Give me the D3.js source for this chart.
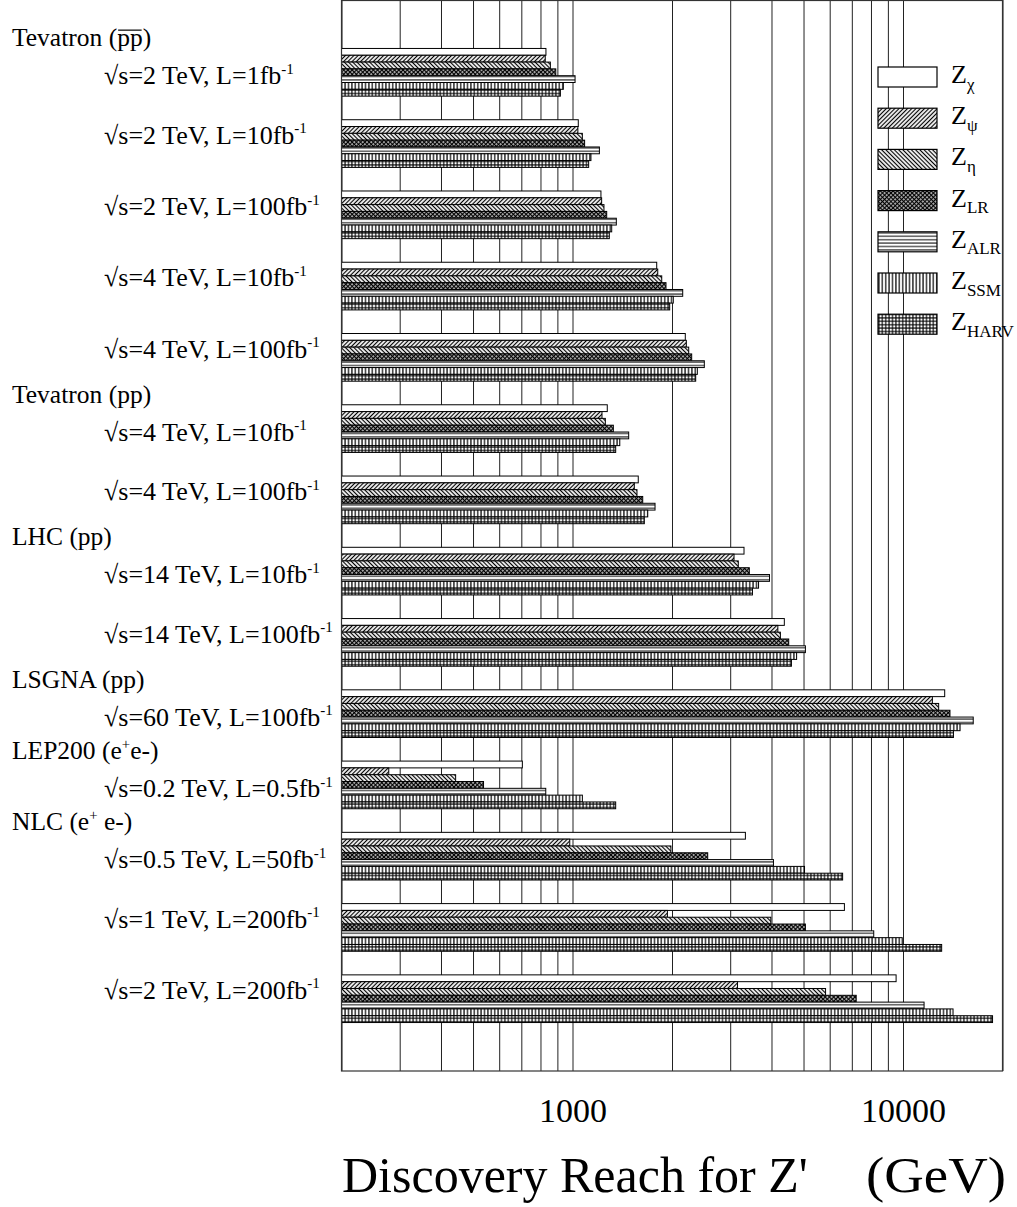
<!DOCTYPE html>
<html><head><meta charset="utf-8">
<script src="https://cdn.jsdelivr.net/npm/d3@7"></script>
<style>
body{margin:0;background:#fff}
svg{display:block}
text{font-family:"Liberation Serif","Times New Roman",Times,serif;fill:#000}
</style>
</head><body>
<svg id="chart" width="1017" height="1207"></svg>
<script>
// ---------------- data ----------------
const sqrtS = ["2","2","2","4","4","4","4","14","14","60","0.2","0.5","1","2"];
const lumi  = ["1","10","100","10","100","10","100","10","100","100","0.5","50","200","200"];
const colliders = ["Tevatron (~{pp})","Tevatron (pp)","LHC (pp)","LSGNA (pp)","LEP200 (e^{+}e-)","NLC  (e^{+} e-)"];
const groupCollider = [0,0,0,0,0,1,1,2,2,3,4,5,5,5];
const seriesSub = ["χ","ψ","η","LR","ALR","SSM","HARV"];

const zChi  = [831,1041,1219,1798,2194,1274,1581,3303,4374,13370,705,3335,6648,9530];
const zPsi  = [827,1038,1225,1811,2210,1228,1538,3081,4181,12270,278,981,1937,3157];
const zEta  = [857,1071,1245,1862,2247,1257,1567,3174,4256,12820,443,1985,3981,5830];
const zLR   = [890,1088,1269,1918,2294,1329,1631,3427,4510,13870,538,2565,5066,7217];
const zALR  = [1018,1206,1357,2155,2505,1479,1777,3945,5066,16310,830,4055,8155,11580];
const zSSM  = [938,1137,1314,2018,2386,1390,1689,3655,4765,14880,1071,5035,9945,14170];
const zHARV = [919,1119,1292,1968,2359,1351,1649,3503,4596,14210,1351,6566,13090,18660];
const seriesValues = [zChi,zPsi,zEta,zLR,zALR,zSSM,zHARV];

const xTicks = [200,300,400,500,600,700,800,900,1000,2000,3000,4000,5000,6000,7000,8000,9000,10000,20000];
const xTickLabels = [1000,10000];
const axisTitle = "Discovery Reach for Z'";
const unitTitle = "(GeV)";

// ---------------- layout ----------------
const svg = d3.select("#chart");
const L = 341.5, R = 1002.5, T = 0, B = 1071;
const x = d3.scaleLog().domain([200,20000]).range([L,R]);
const y = d3.scaleBand().domain(d3.range(sqrtS.length)).range([T,B]).paddingInner(0.331).paddingOuter(0.68);
const ys = d3.scaleBand().domain(d3.range(seriesSub.length)).range([0,y.bandwidth()]);

// ---------------- patterns ----------------
const defs = svg.append("defs");
function pattern(id, w, h, transform, draw){
  const p = defs.append("pattern").attr("id",id).attr("patternUnits","userSpaceOnUse")
    .attr("width",w).attr("height",h);
  if(transform) p.attr("patternTransform",transform);
  p.append("rect").attr("width",w).attr("height",h).attr("fill","#fff");
  draw(p);
}
const ln = (p,x1,y1,x2,y2,sw)=>p.append("line").attr("x1",x1).attr("y1",y1).attr("x2",x2).attr("y2",y2)
  .attr("stroke","#000").attr("stroke-width",sw);
pattern("p0",4,4,null,p=>{});
pattern("p1",3,3,"rotate(45)",p=>ln(p,1.5,0,1.5,3,1.2));
pattern("p2",3,3,"rotate(-45)",p=>ln(p,1.5,0,1.5,3,1.2));
pattern("p3",3,3,"rotate(45)",p=>{ln(p,1.5,0,1.5,3,1.4);ln(p,0,1.5,3,1.5,1.4);});
pattern("p4",4,3.4,null,p=>ln(p,0,1.7,4,1.7,1));
pattern("p5",3.4,4,null,p=>ln(p,1.7,0,1.7,4,1.2));
pattern("p6",3.4,3.4,null,p=>{ln(p,1.7,0,1.7,3.4,1.1);ln(p,0,1.7,3.4,1.7,1.1);});

// ---------------- grid (axis) ----------------
const axis = d3.axisBottom(x).tickValues(xTicks).tickSize(B-T).tickSizeOuter(0)
  .tickFormat(d => xTickLabels.includes(d) ? String(d) : "");
const gAxis = svg.append("g").attr("transform",`translate(0,${T})`).call(axis);
gAxis.select(".domain").remove();
gAxis.attr("font-family",null).attr("font-size",null);
gAxis.selectAll(".tick line").attr("stroke","#222").attr("stroke-width",1);
gAxis.selectAll(".tick text").attr("y",1121.7).attr("dy",0).attr("font-size",34).attr("fill","#000");

// ---------------- bars ----------------
const gBars = svg.append("g");
seriesValues.forEach((vals,s)=>{
  gBars.selectAll(null).data(vals).join("rect")
    .attr("x",x(200))
    .attr("y",(d,i)=>y(i)+ys(s))
    .attr("width",d=>x(d)-x(200))
    .attr("height",ys.bandwidth())
    .attr("fill",`url(#p${s})`)
    .attr("stroke","#000").attr("stroke-width",1);
});

// ---------------- frame ----------------
svg.append("rect").attr("x",L).attr("y",T+0.5).attr("width",R-L).attr("height",B-T-0.5)
  .attr("fill","none").attr("stroke","#333").attr("stroke-width",1.2);

// ---------------- markup text helper ----------------
function richText(g, str, xPos, yPos, size){
  const t = g.append("text").attr("x",xPos).attr("y",yPos).attr("font-size",size);
  const parts = str.split(/(\^\{[^}]*\}|~\{[^}]*\})/).filter(s=>s.length);
  let shifted = 0, idx = 0; const overs = [];
  parts.forEach(p=>{
    let txt = p, sup = false, over = false;
    if(p.startsWith("^{")){ txt = p.slice(2,-1); sup = true; }
    else if(p.startsWith("~{")){ txt = p.slice(2,-1); over = true; }
    const ts = t.append("tspan").text(txt);
    if(sup){ ts.attr("font-size",size*0.58).attr("dy",-size*0.4); shifted = size*0.4; }
    else if(shifted){ ts.attr("dy",shifted); shifted = 0; }
    if(over) overs.push([idx, idx+txt.length-1]);
    idx += txt.length;
  });
  const node = t.node();
  overs.forEach(([a,b])=>{
    const x1 = node.getStartPositionOfChar(a).x, x2 = node.getEndPositionOfChar(b).x;
    g.append("line").attr("x1",x1+1).attr("x2",x2-1).attr("y1",yPos-size*0.64).attr("y2",yPos-size*0.64)
      .attr("stroke","#000").attr("stroke-width",1.2);
  });
  return t;
}

// ---------------- category labels ----------------
const gLab = svg.append("g");
sqrtS.forEach((s,i)=>{
  const hasHeader = i===0 || groupCollider[i]!==groupCollider[i-1];
  if(hasHeader) richText(gLab, colliders[groupCollider[i]], 12, y(i)-2, 25.5);
  const yy = y(i) + (hasHeader ? 36 : 24);
  richText(gLab, `√s=${s} TeV, L=${lumi[i]}fb^{-1}`, 104, yy, 26);
});

// ---------------- legend ----------------
const gLeg = svg.append("g");
seriesSub.forEach((sub,s)=>{
  const top = 67 + s*41.2;
  gLeg.append("rect").attr("x",878).attr("y",top).attr("width",59).attr("height",20)
    .attr("fill",`url(#p${s})`).attr("stroke","#000").attr("stroke-width",1.2);
  const t = gLeg.append("text").attr("x",951).attr("y",top+16).attr("font-size",26);
  t.append("tspan").text("Z");
  t.append("tspan").attr("font-size",17).attr("dy",6.6).text(sub);
});

// ---------------- axis title ----------------
svg.append("text").attr("x",342).attr("y",1191.7).attr("font-size",50).text(axisTitle);
svg.append("text").attr("x",866).attr("y",1191.7).attr("font-size",50)
  .attr("textLength",140).attr("lengthAdjust","spacingAndGlyphs").text(unitTitle);
</script>
</body></html>
